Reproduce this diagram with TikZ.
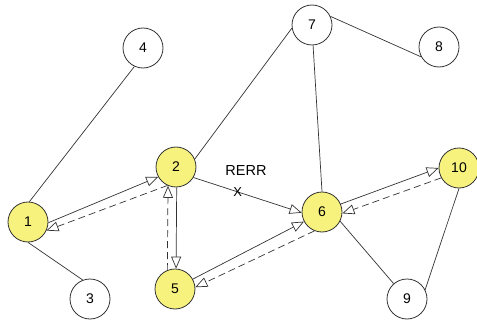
\documentclass[tikz,border=0pt]{standalone}
\usepackage{fontspec}
\setmainfont{Liberation Sans}
\usetikzlibrary{arrows.meta}
\definecolor{nodeyellow}{HTML}{F7F27E}
\definecolor{edgegray}{HTML}{333333}
\begin{document}
\begin{tikzpicture}[x=1pt,y=-1pt,
  every node/.style={font=\fontsize{14}{16}\selectfont},
  plain/.style={circle,draw=edgegray,line width=0.8pt,minimum size=40pt,inner sep=0pt,fill=white},
  active/.style={plain,fill=nodeyellow},
  link/.style={draw=edgegray,line width=0.7pt},
  fwd/.style={link,-{Triangle[open,length=12pt,width=10pt]}},
  back/.style={fwd,dash pattern=on 7pt off 4pt}]
\useasboundingbox (0,0) rectangle (477,321);
\node[active] (n1) at (28,222) {1};
\node[active] (n2) at (176,167) {2};
\node[plain] (n3) at (90,299) {3};
\node[plain] (n4) at (143,48) {4};
\node[active] (n5) at (175,289) {5};
\node[active] (n6) at (322,212) {6};
\node[plain] (n7) at (312,25) {7};
\node[plain] (n8) at (439,47) {8};
\node[plain] (n9) at (407,299) {9};
\node[active] (n10) at (459,168) {10};
% plain links
\draw[link] (n1.86) -- (n4.245);
\draw[link] (n1.-90) -- (n3.111);
\draw[link] (n2.23) -- (n7.189);
\draw[link] (n7.25) -- (n8.209);
\draw[link] (n7.-87) -- (n6.90);
\draw[link] (n6.-27) -- (n9.131);
\draw[link] (n9.27) -- (n10.-90);
% route pairs
\draw[fwd] (n1.-2) -- (n2.209);
\draw[back] (n2.245) -- (n1.-25);
\draw[fwd] (n2.-88) -- (n5.87);
\draw[back] (n5.112) -- (n2.247);
\draw[fwd] (n5.29) -- (n6.208);
\draw[back] (n6.248) -- (n5.5);
\draw[fwd] (n6.23) -- (n10.180);
\draw[back] (n10.209) -- (n6.-4);
% RERR
\draw[fwd] (n2.-31) -- node[pos=0.41,inner sep=0pt,font=\fontsize{13}{15}\selectfont] (x) {X} (n6.182);
\node[font=\fontsize{14.5}{17}\selectfont] (rerr) at (246,171) {RERR};
\end{tikzpicture}
\end{document}
